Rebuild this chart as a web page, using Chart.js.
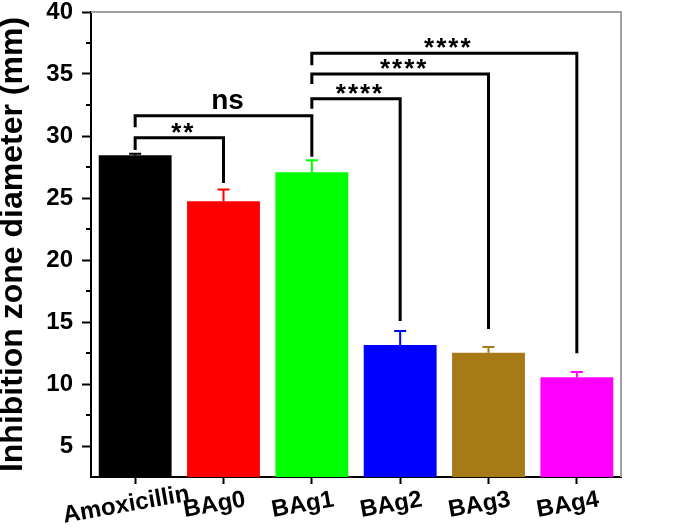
<!DOCTYPE html>
<html>
<head>
<meta charset="utf-8">
<script src="https://cdn.jsdelivr.net/npm/chart.js@4.4.0/dist/chart.umd.min.js"></script>
<style>
  html, body { margin:0; padding:0; background:#fff; }
  #wrap { width:677px; height:531px; position:relative; }
</style>
</head>
<body>
<div id="wrap"><canvas id="myChart"></canvas></div>
<script>
(function(){
  'use strict';

  // data
  const categories  = ['Amoxicillin', 'BAg0', 'BAg1', 'BAg2', 'BAg3', 'BAg4'];
  const meanValues  = [28.45, 24.73, 27.07, 13.15, 12.52, 10.54];
  const errValues   = [0.12, 0.95, 0.97, 1.12, 0.46, 0.43];
  const barColors   = ['#000000', '#ff0000', '#00ff00', '#0000ff', '#a67a16', '#ff00ff'];
  const yTicks      = [5, 10, 15, 20, 25, 30, 35, 40];
  const yMinorTicks = [7.5, 12.5, 17.5, 22.5, 27.5, 32.5, 37.5];

  // significance brackets (category index, values in mm)
  const bracketFrom     = [0, 0, 2, 2, 2];
  const bracketTo       = [1, 2, 3, 4, 5];
  const bracketTop      = [29.86, 31.64, 33.0, 35.0, 36.67];
  const bracketLeftEnd  = [28.87, 30.7, 32.2, 34.2, 35.7];
  const bracketRightEnd = [26.2, 28.33, 15.08, 14.44, 12.48];
  const bracketLabels   = ['**', 'ns', '****', '****', '****'];

  const FONT = '"Liberation Sans", Arial, sans-serif';

  const extras = {
    id: 'extras',
    afterDraw(chart){
      const ctx = chart.ctx;
      const area = chart.chartArea;
      const xs = chart.scales.x;
      const ys = chart.scales.y;

      // gray frame on top and right
      ctx.save();
      ctx.strokeStyle = '#a0a0a0';
      ctx.lineWidth = 2;
      ctx.beginPath();
      ctx.moveTo(area.left, area.top);
      ctx.lineTo(area.right, area.top);
      ctx.lineTo(area.right, area.bottom);
      ctx.stroke();

      // minor ticks on y
      ctx.strokeStyle = '#000';
      ctx.lineWidth = 2;
      yMinorTicks.forEach(v => {
        const y = Math.round(ys.getPixelForValue(v));
        ctx.beginPath();
        ctx.moveTo(area.left - 5, y);
        ctx.lineTo(area.left, y);
        ctx.stroke();
      });

      // error bars (upper half)
      const meta = chart.getDatasetMeta(0);
      meta.data.forEach((bar, i) => {
        const yTop = ys.getPixelForValue(meanValues[i] + errValues[i]);
        const yBase = ys.getPixelForValue(meanValues[i]);
        ctx.strokeStyle = barColors[i];
        ctx.lineWidth = 2;
        ctx.beginPath();
        ctx.moveTo(bar.x, yBase);
        ctx.lineTo(bar.x, yTop);
        ctx.moveTo(bar.x - 6, yTop);
        ctx.lineTo(bar.x + 6, yTop);
        ctx.stroke();
      });

      // brackets
      ctx.strokeStyle = '#000';
      ctx.lineWidth = 3;
      ctx.lineJoin = 'miter';
      ctx.fillStyle = '#000';
      bracketFrom.forEach((from, k) => {
        const x1 = xs.getPixelForValue(from);
        const x2 = xs.getPixelForValue(bracketTo[k]);
        const yt = ys.getPixelForValue(bracketTop[k]);
        ctx.beginPath();
        ctx.moveTo(x1, ys.getPixelForValue(bracketLeftEnd[k]));
        ctx.lineTo(x1, yt);
        ctx.lineTo(x2, yt);
        ctx.lineTo(x2, ys.getPixelForValue(bracketRightEnd[k]));
        ctx.stroke();

        const txt = bracketLabels[k];
        const isNs = txt === 'ns';
        ctx.font = isNs ? 'bold 28px ' + FONT : 'bold 26px ' + FONT;
        ctx.letterSpacing = isNs ? '0px' : '2px';
        ctx.textAlign = 'center';
        ctx.textBaseline = 'alphabetic';
        const m = ctx.measureText(txt);
        const gap = isNs ? 7 : 5;
        const base = yt - gap - m.actualBoundingBoxDescent;
        ctx.fillText(txt, (x1 + x2) / 2 + 4, base);
      });
      ctx.letterSpacing = '0px';

      // slanted category labels
      ctx.font = 'bold 24px ' + FONT;
      ctx.textAlign = 'center';
      ctx.textBaseline = 'middle';
      categories.forEach((lab, i) => {
        const x = xs.getPixelForValue(i);
        ctx.save();
        ctx.translate(x - 9, 505);
        ctx.rotate(-10 * Math.PI / 180);
        ctx.fillText(lab, 0, 0);
        ctx.restore();
      });
      ctx.restore();
    }
  };

  function init(){
    const canvas = document.getElementById('myChart');
    const ctx = canvas.getContext('2d');
    new Chart(ctx, {
      type: 'bar',
      data: {
        labels: categories,
        datasets: [{
          data: meanValues,
          backgroundColor: barColors,
          borderWidth: 0,
          barPercentage: 0.825,
          categoryPercentage: 1
        }]
      },
      options: {
        responsive: true,
        maintainAspectRatio: false,
        devicePixelRatio: 1,
        animation: false,
        layout: { padding: { top: 12, right: 56, left: 0, bottom: 0 } },
        plugins: { legend: { display: false }, tooltip: { enabled: false } },
        scales: {
          x: {
            afterFit: s => { s.height = 54; s.paddingLeft = 0; s.paddingRight = 0; },
            ticks: { display: false },
            grid: { offset: false, drawOnChartArea: false, tickLength: 7, tickColor: '#000', tickWidth: 2 },
            border: { color: '#000', width: 2 }
          },
          y: {
            min: 2.5,
            max: 40,
            afterFit: s => { s.width = 91; s.paddingTop = 0; s.paddingBottom = 0; },
            afterBuildTicks: s => { s.ticks = yTicks.map(v => ({ value: v })); },
            ticks: {
              color: '#000',
              padding: 9,
              font: { family: FONT, size: 24, weight: 'bold', lineHeight: 1 }
            },
            grid: { drawOnChartArea: false, tickLength: 9, tickColor: '#000', tickWidth: 2 },
            border: { color: '#000', width: 2 },
            title: {
              display: true,
              text: 'Inhibition zone diameter (mm)',
              color: '#000',
              padding: { top: 0, bottom: 0 },
              font: { family: FONT, size: 32, weight: 'bold', lineHeight: 0.8 }
            }
          }
        }
      },
      plugins: [extras]
    });
  }

  init();
})();
</script>
</body>
</html>
